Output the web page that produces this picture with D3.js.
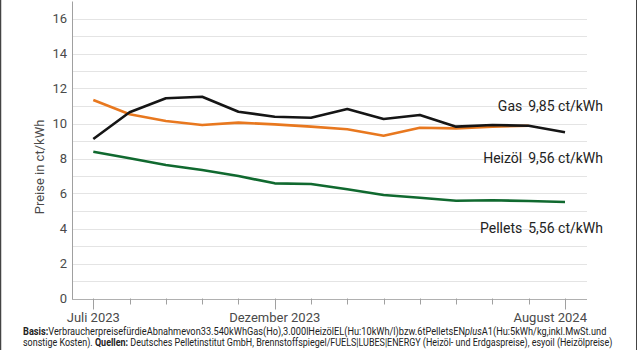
<!DOCTYPE html>
<html>
<head>
<meta charset="utf-8">
<script src="https://cdn.jsdelivr.net/npm/d3@7"></script>
<style>
  body { margin: 0; background: #fff; }
  svg { display: block; font-family: Roboto, "Noto Sans", sans-serif; }
</style>
</head>
<body>
<div id="chart"></div>
<script>
const months = ["Jul 2023", "Aug 2023", "Sep 2023", "Okt 2023", "Nov 2023", "Dez 2023", "Jan 2024",
  "Feb 2024", "Mär 2024", "Apr 2024", "Mai 2024", "Jun 2024", "Jul 2024", "Aug 2024"];
const tickLabels = { 0: "Juli 2023", 5: "Dezember 2023", 13: "August 2024" };
const yTicks = [0, 2, 4, 6, 8, 10, 12, 14, 16];

const gas = [9.11, 10.64, 11.44, 11.53, 10.67, 10.39, 10.33, 10.83, 10.26, 10.49, 9.82, 9.91, 9.87, 9.50];
const heizoel = [11.34, 10.53, 10.14, 9.91, 10.05, 9.95, 9.82, 9.67, 9.30, 9.76, 9.72, 9.82, 9.87];
const pellets = [8.39, 8.01, 7.63, 7.34, 7.00, 6.58, 6.54, 6.24, 5.91, 5.76, 5.59, 5.61, 5.57, 5.51];

const seriesLabels = [
  { name: "Gas", value: "9,85 ct/kWh", at: 11 },
  { name: "Heizöl", value: "9,56 ct/kWh", at: 8 },
  { name: "Pellets", value: "5,56 ct/kWh", at: 4 }
];

const width = 640, height = 350;
const left = 72, right = 587;

const svg = d3.select("#chart").append("svg")
  .attr("width", width)
  .attr("height", height);

// frame lines left and right
svg.append("line").attr("x1", 0.5).attr("x2", 0.5).attr("y1", 0).attr("y2", height)
  .attr("stroke", "#444").attr("stroke-width", 1.5);
svg.append("line").attr("x1", 636.5).attr("x2", 636.5).attr("y1", 0).attr("y2", height)
  .attr("stroke", "#444").attr("stroke-width", 1);

const x = d3.scaleLinear().domain([0, 13]).range([93.3, 565]);
const y = d3.scaleLinear().domain([0, 17]).range([298.5, 1]);

// gridlines at every unit
svg.append("g")
  .selectAll("line")
  .data(d3.range(1, 17))
  .enter()
  .append("line")
  .attr("x1", left).attr("x2", right)
  .attr("y1", d => Math.round(y(d)) + 0.5).attr("y2", d => Math.round(y(d)) + 0.5)
  .attr("stroke", "#e4e4e4");

// y axis
const yAxis = svg.append("g")
  .attr("transform", `translate(${left},0)`)
  .call(d3.axisLeft(y).tickValues(yTicks).tickSize(0).tickPadding(5).tickFormat(d3.format("d")));
yAxis.select(".domain").attr("stroke", "#a0a0a0");
yAxis.selectAll("text").attr("font-size", 13).attr("fill", "#4a4a4a").attr("font-family", "Roboto");

// baseline
svg.append("line")
  .attr("x1", left).attr("x2", right)
  .attr("y1", Math.round(y(0)) + 0.5).attr("y2", Math.round(y(0)) + 0.5)
  .attr("stroke", "#b0b0b0");

// x ticks
svg.append("g")
  .selectAll("line")
  .data(months)
  .enter()
  .append("line")
  .attr("x1", (d, i) => Math.round(x(i)) + 0.5)
  .attr("x2", (d, i) => Math.round(x(i)) + 0.5)
  .attr("y1", y(0))
  .attr("y2", (d, i) => y(0) + (tickLabels[i] ? 11 : 6))
  .attr("stroke", "#a0a0a0");

svg.append("g")
  .selectAll("text")
  .data(Object.keys(tickLabels).map(Number))
  .enter()
  .append("text")
  .attr("x", d => d === 13 ? right : x(d))
  .attr("y", 322)
  .attr("text-anchor", d => d === 13 ? "end" : "middle")
  .attr("font-size", 13)
  .attr("fill", "#4a4a4a")
  .text(d => tickLabels[d]);

// y title
svg.append("text")
  .attr("transform", "translate(44,167) rotate(-90)")
  .attr("text-anchor", "middle")
  .attr("font-size", 13)
  .attr("fill", "#4a4a4a")
  .text("Preise in ct/kWh");

// lines
const line = d3.line()
  .x((d, i) => x(i))
  .y(d => y(d));

[[pellets, "#10692f"], [heizoel, "#e8781f"], [gas, "#151515"]].forEach(([data, color]) => {
  svg.append("path")
    .datum(data)
    .attr("d", line)
    .attr("fill", "none")
    .attr("stroke", color)
    .attr("stroke-width", 2.6)
    .attr("stroke-linejoin", "round");
});

// series labels
svg.append("g")
  .selectAll("text")
  .data(seriesLabels)
  .enter()
  .append("text")
  .attr("x", 603)
  .attr("y", d => y(d.at))
  .attr("dy", "0.35em")
  .attr("text-anchor", "end")
  .attr("font-size", 14)
  .attr("fill", "#222")
  .each(function(d) {
    const t = d3.select(this);
    t.append("tspan").text(d.name);
    t.append("tspan").attr("dx", 6).text(d.value);
  });

// footnote, squeezed horizontally to the reference width
function squeeze(g, baseline, targetWidth) {
  const t = g.select("text").node();
  const w = t.getComputedTextLength();
  g.attr("transform", `translate(23,${baseline}) scale(${targetWidth / w},1)`);
}

const n1 = svg.append("g");
const note1 = n1.append("text").attr("font-size", 10).attr("fill", "#222");
note1.append("tspan").attr("font-weight", "bold").text("Basis:");
note1.append("tspan").text("VerbraucherpreisefürdieAbnahmevon33.540kWhGas(Ho),3.000lHeizölEL(Hu:10kWh/l)bzw.6tPelletsEN");
note1.append("tspan").attr("font-style", "italic").text("plus");
note1.append("tspan").text("A1(Hu:5kWh/kg,inkl.MwSt.und");
squeeze(n1, 335, 584);

const n2 = svg.append("g");
const note2 = n2.append("text").attr("font-size", 10).attr("fill", "#222");
note2.append("tspan").text("sonstige Kosten). ");
note2.append("tspan").attr("font-weight", "bold").text("Quellen:");
note2.append("tspan").text(" Deutsches Pelletinstitut GmbH, Brennstoffspiegel/FUELS|LUBES|ENERGY (Heizöl- und Erdgaspreise), esyoil (Heizölpreise)");
squeeze(n2, 345.5, 590);
</script>
</body>
</html>
